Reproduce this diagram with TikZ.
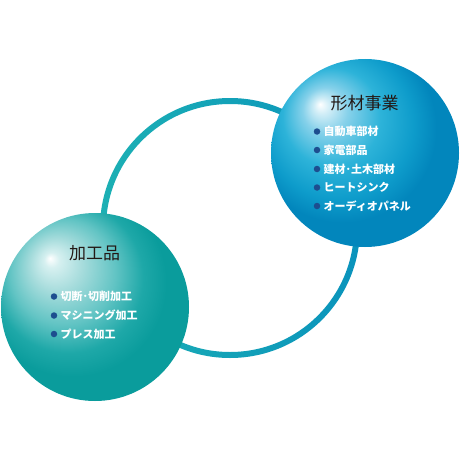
\documentclass[tikz,border=0pt]{standalone}
\usepackage{fontspec}
\setmainfont{Noto Sans CJK JP}
\definecolor{ringL}{HTML}{1CB0B4}
\definecolor{ringR}{HTML}{0A93BC}
\definecolor{bulletc}{HTML}{1D4E8F}
\definecolor{titlec}{HTML}{231815}
\definecolor{bA}{HTML}{D2EEF7}
\definecolor{bB}{HTML}{86D1EA}
\definecolor{bC}{HTML}{2DB3D9}
\definecolor{bD}{HTML}{0E9CCB}
\definecolor{bE}{HTML}{0286BC}
\definecolor{tA}{HTML}{D6F0F0}
\definecolor{tB}{HTML}{A6DCDC}
\definecolor{tC}{HTML}{62C4C4}
\definecolor{tD}{HTML}{1EA8A8}
\definecolor{tE}{HTML}{0A9C9C}
\pgfdeclareradialshading{blueball}{\pgfpoint{-12bp}{13bp}}{%
  color(0bp)=(white); color(2bp)=(bA); color(6bp)=(bB);
  color(13bp)=(bC); color(20bp)=(bD); color(25bp)=(bE); color(50bp)=(bE)}
\pgfdeclareradialshading{tealball}{\pgfpoint{-12bp}{13bp}}{%
  color(0bp)=(white); color(2bp)=(tA); color(7bp)=(tB);
  color(14bp)=(tC); color(20bp)=(tD); color(25bp)=(tE); color(50bp)=(tE)}
\tikzset{
  ball/.style={circle, minimum size=188pt, inner sep=0pt, draw=none},
  title/.style={font=\fontsize{17pt}{17pt}\selectfont, text=titlec, inner sep=0pt},
  item/.style={font=\fontsize{11pt}{11pt}\selectfont\bfseries, text=white, anchor=west, inner sep=0pt},
  dot/.style={circle, fill=bulletc, minimum size=6.5pt, inner sep=0pt},
}
\begin{document}
\begin{tikzpicture}[x=1pt,y=-1pt]
\useasboundingbox (0,0) rectangle (460,460);
\coordinate (ringc) at (230,228);
\shade[left color=ringL, right color=ringR, even odd rule]
  (ringc) circle[radius=130pt] (ringc) circle[radius=124pt];
\node[ball, shade, shading=blueball] (right) at (365,153) {};
\node[ball, shade, shading=tealball] (left) at (95,307) {};
% right texts
\node[title] (rt) at (364.5,103) {形材事業};
\node[dot] (rb1) at (317,131.5) {}; \node[item] (ri1) at (323.5,131.5) {自動車部材};
\node[dot] (rb2) at (317,150) {};   \node[item] (ri2) at (323.5,150) {家電部品};
\node[dot] (rb3) at (317,169) {};   \node[item] (ri3) at (323.5,169) {建材･土木部材};
\node[dot] (rb4) at (317,187.5) {}; \node[item] (ri4) at (323.5,187.5) {ヒートシンク};
\node[dot] (rb5) at (317,206) {};   \node[item] (ri5) at (323.5,206) {オーディオパネル};
% left texts
\node[title] (lt) at (94.5,253) {加工品};
\node[dot] (lb1) at (54,296.5) {}; \node[item] (li1) at (60.5,296.5) {切断･切削加工};
\node[dot] (lb2) at (54,315.5) {}; \node[item] (li2) at (60.5,315.5) {マシニング加工};
\node[dot] (lb3) at (54,334) {};   \node[item] (li3) at (60.5,334) {プレス加工};
\end{tikzpicture}
\end{document}
